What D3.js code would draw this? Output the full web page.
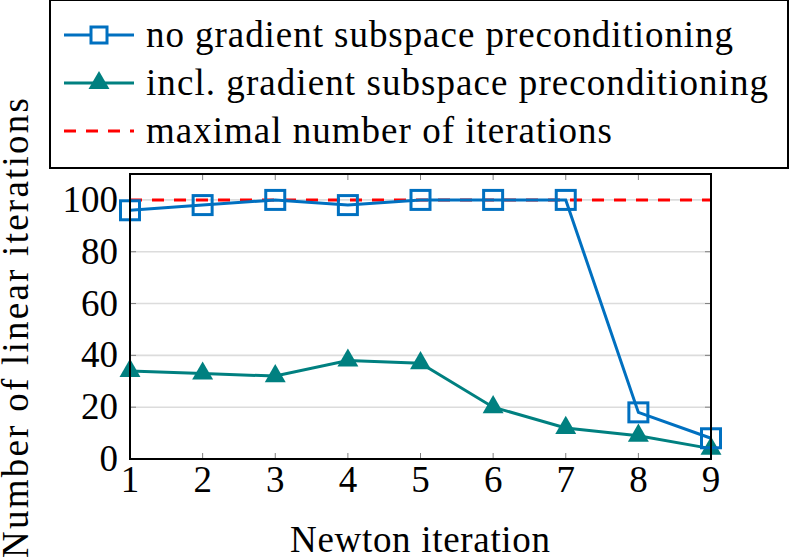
<!DOCTYPE html>
<html>
<head>
<meta charset="utf-8">
<script src="https://cdn.jsdelivr.net/npm/d3@7"></script>
<style>
  body { margin: 0; background: #fff; }
</style>
</head>
<body>
<svg id="chart" width="792" height="559"></svg>
<script>
const iterations = [1, 2, 3, 4, 5, 6, 7, 8, 9]
const noPrecond = [96, 98, 100, 98, 100, 100, 100, 18, 8]
const withPrecond = [34, 33, 32, 38, 37, 20, 12, 9, 4]
const maxIterations = 100
const yTicks = [0, 20, 40, 60, 80, 100]
const legendLabels = [
    'no gradient subspace preconditioning',
    'incl. gradient subspace preconditioning',
    'maximal number of iterations'
]

const blue = '#0070c0'
const teal = '#008080'
const red = '#ff0000'
const serif = '"Liberation Serif", "Times New Roman", serif'

const margin = { left: 130, right: 81, top: 174, bottom: 100 }
const width = 792 - margin.left - margin.right
const height = 559 - margin.top - margin.bottom

const svg = d3.select('#chart')
const g = svg.append('g').attr('transform', `translate(${margin.left},${margin.top})`)

const x = d3.scaleLinear().domain([1, 9]).range([0, width])
const y = d3.scaleLinear().domain([0, 110]).range([height, 0])

// grid
g.selectAll('.grid')
    .data(yTicks.filter(d => d > 0))
    .enter()
    .append('line')
    .attr('x1', 0).attr('x2', width)
    .attr('y1', d => y(d)).attr('y2', d => y(d))
    .attr('stroke', '#dcdcdc')
    .attr('stroke-width', 1.6)

// inner ticks
const tickLen = 6
g.selectAll('.xtb').data(iterations).enter().append('line')
    .attr('x1', d => x(d)).attr('x2', d => x(d))
    .attr('y1', height).attr('y2', height - tickLen)
    .attr('stroke', '#808080').attr('stroke-width', 1)
g.selectAll('.xtt').data(iterations).enter().append('line')
    .attr('x1', d => x(d)).attr('x2', d => x(d))
    .attr('y1', 0).attr('y2', tickLen)
    .attr('stroke', '#808080').attr('stroke-width', 1)
g.selectAll('.ytl').data(yTicks).enter().append('line')
    .attr('x1', 0).attr('x2', tickLen)
    .attr('y1', d => y(d)).attr('y2', d => y(d))
    .attr('stroke', '#808080').attr('stroke-width', 1)
g.selectAll('.ytr').data(yTicks).enter().append('line')
    .attr('x1', width).attr('x2', width - tickLen)
    .attr('y1', d => y(d)).attr('y2', d => y(d))
    .attr('stroke', '#808080').attr('stroke-width', 1)

// tick labels
g.selectAll('.xl').data(iterations).enter().append('text')
    .attr('x', d => x(d)).attr('y', height + 33)
    .attr('text-anchor', 'middle')
    .attr('font-family', serif)
    .attr('font-size', 37)
    .text(d => d)
g.selectAll('.yl').data(yTicks).enter().append('text')
    .attr('x', -12).attr('y', d => y(d) + 12)
    .attr('text-anchor', 'end')
    .attr('font-family', serif)
    .attr('font-size', 37)
    .text(d => d)

// max line
g.append('line')
    .attr('x1', 0).attr('x2', width)
    .attr('y1', y(maxIterations)).attr('y2', y(maxIterations))
    .attr('stroke', red).attr('stroke-width', 3)
    .attr('stroke-dasharray', '12,10')

const line = d3.line().x((d, i) => x(iterations[i])).y(d => y(d))

g.append('path').datum(noPrecond)
    .attr('d', line).attr('fill', 'none')
    .attr('stroke', blue).attr('stroke-width', 3)
g.append('path').datum(withPrecond)
    .attr('d', line).attr('fill', 'none')
    .attr('stroke', teal).attr('stroke-width', 3)

const tri = d3.symbol().type(d3.symbolTriangle).size(190)

g.selectAll('.tri').data(withPrecond).enter().append('path')
    .attr('d', tri)
    .attr('transform', (d, i) => `translate(${x(iterations[i])},${y(d)})`)
    .attr('fill', teal)

g.selectAll('.sq').data(noPrecond).enter().append('rect')
    .attr('x', (d, i) => x(iterations[i]) - 9.5)
    .attr('y', d => y(d) - 9.5)
    .attr('width', 19).attr('height', 19)
    .attr('fill', 'none')
    .attr('stroke', blue).attr('stroke-width', 3)

// frame
g.append('rect')
    .attr('width', width).attr('height', height)
    .attr('fill', 'none').attr('stroke', '#000').attr('stroke-width', 2)

// axis titles (TeX spacing is wider than the browser's, so stretch to fit)
svg.append('text')
    .attr('x', 290).attr('y', 552)
    .attr('font-family', serif)
    .attr('font-size', 37)
    .attr('textLength', 260).attr('lengthAdjust', 'spacing')
    .text('Newton iteration')
svg.append('text')
    .attr('transform', `translate(28,558) rotate(-90)`)
    .attr('font-family', serif)
    .attr('font-size', 37)
    .attr('textLength', 460).attr('lengthAdjust', 'spacing')
    .text('Number of linear iterations')

// legend
const lg = svg.append('g')
lg.append('rect')
    .attr('x', 50).attr('y', 0).attr('width', 738).attr('height', 168)
    .attr('fill', '#fff').attr('stroke', '#000').attr('stroke-width', 2)

const rows = [35, 83, 131]
const colors = [blue, teal, red]
const legendWidths = [587, 622, 466]
rows.forEach((ry, i) => {
    const ln = lg.append('line')
        .attr('x1', 64).attr('x2', 134)
        .attr('y1', ry).attr('y2', ry)
        .attr('stroke', colors[i]).attr('stroke-width', 3)
    if (i === 2) ln.attr('stroke-dasharray', '12,10').attr('x1', 64)
    if (i === 0) {
        lg.append('rect').attr('x', 99 - 8).attr('y', ry - 8)
            .attr('width', 16).attr('height', 16)
            .attr('fill', '#fff').attr('stroke', blue).attr('stroke-width', 3)
    }
    if (i === 1) {
        lg.append('path').attr('d', tri)
            .attr('transform', `translate(99,${ry})`)
            .attr('fill', teal)
    }
    lg.append('text')
        .attr('x', 146).attr('y', ry + 12)
        .attr('font-family', serif)
        .attr('font-size', 37)
        .attr('textLength', legendWidths[i]).attr('lengthAdjust', 'spacing')
        .text(legendLabels[i])
})
</script>
</body>
</html>
